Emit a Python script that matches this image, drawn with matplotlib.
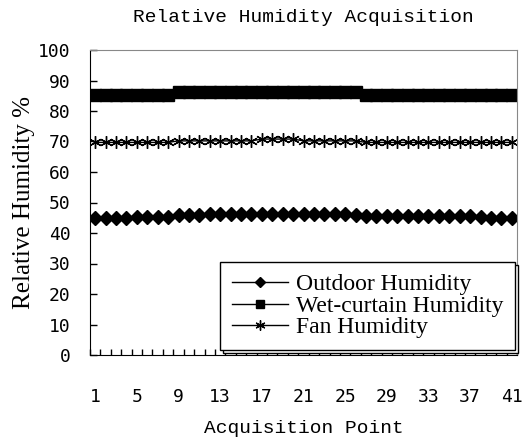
import matplotlib
matplotlib.use("Agg")
import matplotlib.pyplot as plt
import numpy as np

points = list(range(1, 42))
outdoor = [44.8, 44.8, 44.8, 44.8, 45.3, 45.3, 45.3, 45.3, 46.0, 46.0,
           46.0, 46.1, 46.1, 46.1, 46.1, 46.1, 46.1, 46.1, 46.1, 46.1,
           46.1, 46.1, 46.1, 46.1, 46.1, 46.0, 45.5, 45.5, 45.5, 45.5,
           45.5, 45.5, 45.5, 45.5, 45.5, 45.5, 45.5, 45.2, 44.8, 44.8, 44.8]
wet = [85.4] * 8 + [86.1] * 18 + [85.4] * 15
fan = [69.7] * 8 + [70.2] * 8 + [70.8] * 4 + [70.2] * 6 + [69.7] * 15
xticklabels = [1, 5, 9, 13, 17, 21, 25, 29, 33, 37, 41]
yticks = list(range(0, 101, 10))

fig = plt.figure(figsize=(5.23, 4.45), dpi=100)
ax = fig.add_axes([90/523, 1-355/445, 427/523, 305/445])

ax.plot(points, outdoor, color='black', lw=1, marker='D', ms=7, label='Outdoor Humidity')
ax.plot(points, wet, color='black', lw=1, marker='s', ms=8, label='Wet-curtain Humidity')
ax.plot(points, fan, color='black', lw=1, marker=(6, 2, 0), ms=9, mew=1, label='Fan Humidity')

ax.set_xlim(0.5, 41.5)
ax.set_ylim(0, 100)
ax.set_yticks(yticks)
ax.set_xticks(xticklabels)
ax.set_xticklabels([str(v) for v in xticklabels], family='DejaVu Sans Mono', fontsize=13)
ax.set_xticks(np.arange(0.5, 41.6, 1.0), minor=True)
ax.tick_params(axis='x', which='major', length=0, pad=24)
ax.tick_params(axis='x', which='minor', direction='in', length=4, width=1)
ax.tick_params(axis='y', direction='in', length=5, width=1, pad=14)
for lab in ax.get_yticklabels():
    lab.set_family('DejaVu Sans Mono')
    lab.set_fontsize(13)

ax.spines['left'].set_color('black')
ax.spines['bottom'].set_color('black')
ax.spines['top'].set_color('#888888')
ax.spines['right'].set_color('#888888')

ax.set_title('Relative Humidity Acquisition', family='Liberation Mono', fontsize=14, pad=20)
ax.set_xlabel('Acquisition Point', family='Liberation Mono', fontsize=14, labelpad=10)
ax.set_ylabel('Relative Humidity %', family='Liberation Serif', fontsize=18, labelpad=2)

leg = ax.legend(loc='lower right', bbox_to_anchor=(0.995, 0.016), borderaxespad=0,
                prop={'family': 'Liberation Serif', 'size': 17}, frameon=True,
                fancybox=False, edgecolor='black', framealpha=1, markerscale=0.8,
                handlelength=2.4, handletextpad=0.3, labelspacing=0.0, borderpad=0.5,
                shadow={'facecolor': 'white', 'edgecolor': 'black', 'alpha': 1, 'linewidth': 1})
leg.get_frame().set_linewidth(1)

fig.savefig('out.png', dpi=100)
